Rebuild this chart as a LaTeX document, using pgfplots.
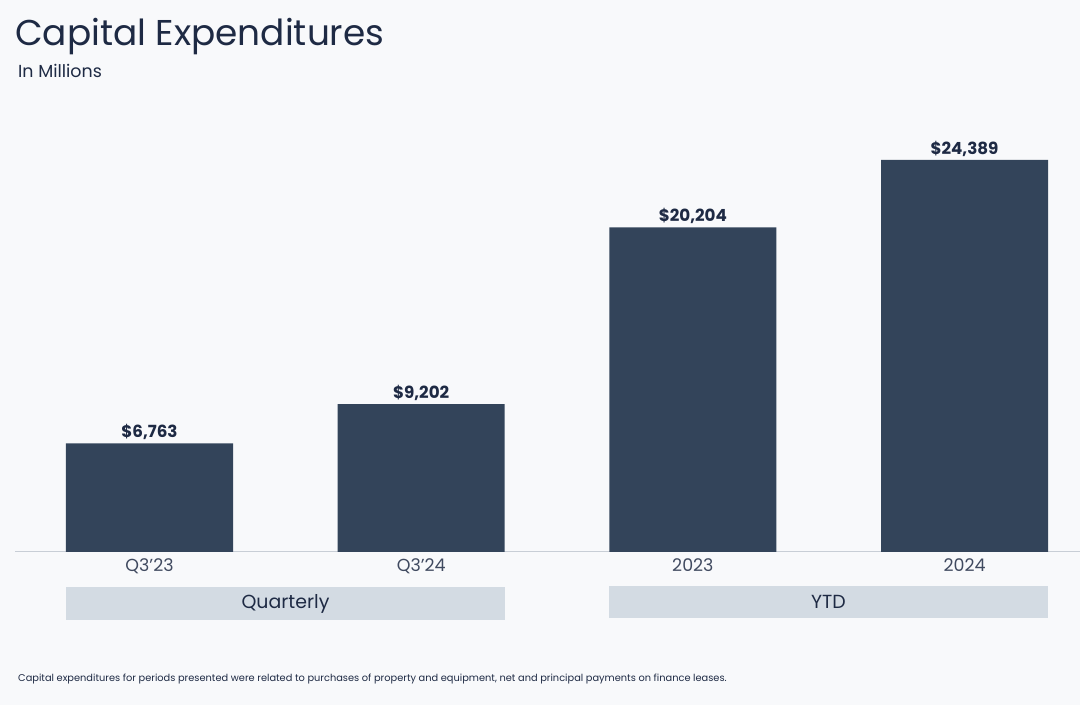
\documentclass[border=0pt]{standalone}
\usepackage{fontspec}
\setmainfont{Poppins}
\usepackage{pgfplots}
\pgfplotsset{compat=1.18}
\definecolor{bg}{HTML}{F8F9FB}
\definecolor{barc}{HTML}{33445A}
\definecolor{ink}{HTML}{1E2A44}
\definecolor{boxc}{HTML}{D3DBE3}
\definecolor{basel}{HTML}{C8CED6}
\begin{document}
\begin{tikzpicture}
\fill[bg] (0,0) rectangle (1080bp,705bp);
\useasboundingbox (0,0) rectangle (1080bp,705bp);
\node[anchor=base west, inner sep=0pt, text=ink, font=\fontsize{36}{40}\selectfont] at (15bp,659bp) {Capital Expenditures};
\node[anchor=base west, inner sep=0pt, text=ink, font=\fontsize{17.5}{20}\selectfont] at (18bp,627bp) {In Millions};
\begin{axis}[
  at={(15bp,153bp)}, anchor=south west,
  scale only axis, width=1065bp, height=417.9bp,
  xmin=-0.495, xmax=3.425, ymin=0, ymax=26000,
  axis x line*=bottom, axis y line=none,
  x axis line style={basel, line width=1bp, -},
  xtick={0,1,2,3}, xticklabels={Q3'23,Q3'24,2023,2024},
  major tick length=0pt,
  xticklabel style={font=\fontsize{17.5}{20}\selectfont, text=ink!85, yshift=-3bp},
  ytick=\empty,
  clip=false,
  ybar, bar width=0.615,
  nodes near coords={\$\pgfmathprintnumber{\pgfplotspointmeta}},
  nodes near coords style={font=\bfseries\fontsize{16.8}{20}\selectfont, text=ink, /pgf/number format/assume math mode=true, /pgf/number format/1000 sep={,}},
]
\addplot[fill=barc, draw=none] coordinates {(0,6763) (1,9202) (2,20204) (3,24389)};
\end{axis}
\fill[boxc] (66bp,85bp) rectangle (505bp,118bp);
\fill[boxc] (609bp,87bp) rectangle (1048bp,119bp);
\node[text=ink, font=\fontsize{19}{22}\selectfont] at (285.5bp,101.5bp) {Quarterly};
\node[text=ink, font=\fontsize{19}{22}\selectfont] at (828.5bp,103bp) {YTD};
\node[anchor=base west, inner sep=0pt, text=ink, font=\fontsize{9.85}{12}\selectfont] at (18bp,24bp) {Capital expenditures for periods presented were related to purchases of property and equipment, net and principal payments on finance leases.};
\end{tikzpicture}
\end{document}
